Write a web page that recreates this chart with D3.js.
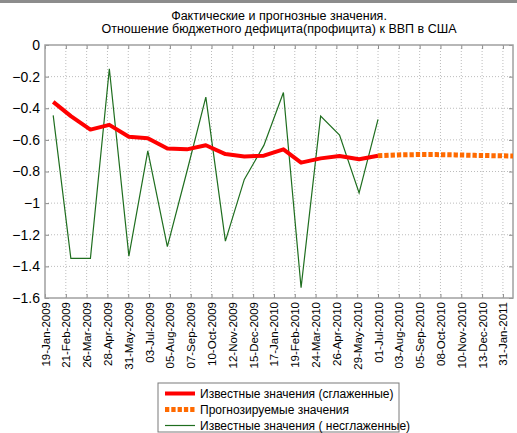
<!DOCTYPE html>
<html>
<head>
<meta charset="utf-8">
<script src="https://cdn.jsdelivr.net/npm/d3@7"></script>
<style>
  body { margin: 0; background: #fff; }
  svg { font-family: "Liberation Sans", Arial, sans-serif; }
</style>
</head>
<body>
<svg id="chart" width="517" height="433"></svg>
<script>
// known months (point dates) and the two series
var knownDates = ["2009-02-01","2009-03-01","2009-04-01","2009-05-01","2009-06-01","2009-07-01",
                  "2009-08-01","2009-09-01","2009-10-01","2009-11-01","2009-12-01","2010-01-01",
                  "2010-02-01","2010-03-01","2010-04-01","2010-05-01","2010-06-01","2010-07-01"];
var smoothed = [-0.36,-0.45,-0.535,-0.505,-0.58,-0.59,-0.655,-0.66,-0.634,-0.69,-0.705,-0.70,
                -0.66,-0.744,-0.717,-0.702,-0.722,-0.70];
var raw = [-0.445,-1.35,-1.35,-0.15,-1.335,-0.67,-1.275,-0.80,-0.33,-1.24,-0.85,-0.635,
           -0.30,-1.535,-0.45,-0.57,-0.935,-0.47];

// forecast
var forecastDates = ["2010-07-01","2010-08-01","2010-09-01","2010-10-01","2010-11-01",
                     "2010-12-01","2011-01-01","2011-02-01"];
var forecast = [-0.70,-0.695,-0.693,-0.693,-0.695,-0.698,-0.70,-0.702];

// x ticks every 33 days starting 19-Jan-2009, labels as printed
var tickStart = "2009-01-19";
var tickLabels = ["19-Jan-2009","21-Feb-2009","26-Mar-2009","28-Apr-2009","31-May-2009","03-Jul-2009",
                  "05-Aug-2009","07-Sep-2009","10-Oct-2009","12-Nov-2009","15-Dec-2009","17-Jan-2010",
                  "19-Feb-2010","24-Mar-2010","26-Apr-2010","29-May-2010","01-Jul-2010","03-Aug-2010",
                  "05-Sep-2010","08-Oct-2010","10-Nov-2010","13-Dec-2010","31-Jan-2011"];
var yTicks = [0,-0.2,-0.4,-0.6,-0.8,-1,-1.2,-1.4,-1.6];

var titleLines = ["Фактические и прогнозные значения.",
                  "Отношение бюджетного дефицита(профицита) к ВВП в США"];
var legendNames = ["Известные значения (сглаженные)","Прогнозируемые значения",
                   "Известные значения ( несглаженные)"];

var parse = d3.utcParse("%Y-%m-%d");
var margin = {top: 45, right: 4, bottom: 135, left: 45},
    width = 517 - margin.left - margin.right,
    height = 433 - margin.top - margin.bottom;

var svg = d3.select("#chart");

// grey strip at the top of the window
svg.append("rect").attr("x", 0).attr("y", 0).attr("width", 517).attr("height", 3).attr("fill", "#8c8c8c");

var g = svg.append("g").attr("transform", "translate(" + margin.left + "," + margin.top + ")");

var x = d3.scaleUtc()
    .domain([parse(tickStart), parse("2011-01-31")])
    .range([0, width]);
var y = d3.scaleLinear()
    .domain([-1.6, 0])
    .range([height, 0]);

var tickDates = tickLabels.map(function(d, i) { return d3.utcDay.offset(parse(tickStart), 33 * i); });

// grid
g.append("g").selectAll("line").data(tickDates.slice(1)).enter().append("line")
    .attr("x1", function(d) { return x(d); }).attr("x2", function(d) { return x(d); })
    .attr("y1", 0).attr("y2", height)
    .attr("stroke", "#bcbcbc").attr("stroke-dasharray", "1,2");
g.append("g").selectAll("line").data(yTicks.slice(1, -1)).enter().append("line")
    .attr("y1", function(d) { return y(d); }).attr("y2", function(d) { return y(d); })
    .attr("x1", 0).attr("x2", width)
    .attr("stroke", "#bcbcbc").attr("stroke-dasharray", "1,2");

// axes with inward ticks
var xAxis = d3.axisBottom(x).tickValues(tickDates).tickSizeInner(-4).tickSizeOuter(0)
    .tickFormat(function(d, i) { return tickLabels[i]; });
var gx = g.append("g").attr("transform", "translate(0," + height + ")").call(xAxis);
gx.selectAll("text")
    .attr("transform", "rotate(-90)")
    .attr("x", -4).attr("y", 0).attr("dy", "0.35em")
    .attr("text-anchor", "end")
    .style("font-size", "11.5px").attr("fill", "#000");

g.append("g").call(d3.axisTop(x).tickValues(tickDates).tickSizeInner(-4).tickSizeOuter(0).tickFormat(""));

var yAxis = d3.axisLeft(y).tickValues(yTicks).tickSizeInner(-4).tickSizeOuter(0)
    .tickFormat(function(d) { return d3.format("")(+d.toFixed(1)); });
var gy = g.append("g").call(yAxis);
gy.selectAll("text").attr("x", -5).style("font-size", "14px").attr("fill", "#000");

g.append("g").attr("transform", "translate(" + width + ",0)")
    .call(d3.axisRight(y).tickValues(yTicks).tickSizeInner(-4).tickSizeOuter(0).tickFormat(""));

g.selectAll(".domain").remove();
g.selectAll(".tick line").attr("stroke", "#8a8a8a");

g.append("rect").attr("width", width).attr("height", height)
    .attr("fill", "none").attr("stroke", "#a0a0a0").attr("stroke-width", 1.5);

// clip
svg.append("clipPath").attr("id", "clip").append("rect").attr("width", width).attr("height", height);
var plot = g.append("g").attr("clip-path", "url(#clip)");

var line = d3.line()
    .x(function(d) { return x(d[0]); })
    .y(function(d) { return y(d[1]); });

var rawData = knownDates.map(function(d, i) { return [parse(d), raw[i]]; });
var smoothData = knownDates.map(function(d, i) { return [parse(d), smoothed[i]]; });
var fcData = forecastDates.map(function(d, i) { return [parse(d), forecast[i]]; });

plot.append("path").datum(rawData).attr("d", line)
    .attr("fill", "none").attr("stroke", "#1f6e1f").attr("stroke-width", 1.2);
plot.append("path").datum(smoothData).attr("d", line)
    .attr("fill", "none").attr("stroke", "#ff0000").attr("stroke-width", 4).attr("stroke-linejoin", "round");
plot.append("path").datum(fcData).attr("d", line)
    .attr("fill", "none").attr("stroke", "#ff6a00").attr("stroke-width", 5)
    .attr("stroke-dasharray", "4.3,2");

// title
svg.append("g").selectAll("text").data(titleLines).enter().append("text")
    .attr("x", margin.left + width / 2)
    .attr("y", function(d, i) { return 20 + i * 13; })
    .attr("text-anchor", "middle")
    .style("font-size", "12.5px")
    .text(function(d) { return d; });

// legend
var legend = svg.append("g").attr("transform", "translate(158,383)");
legend.append("rect").attr("width", 241).attr("height", 49)
    .attr("fill", "#fff").attr("stroke", "#7a7a7a");
var legendStyles = [
  {color: "#ff0000", w: 4, dash: null},
  {color: "#ff6a00", w: 5, dash: "4.3,2"},
  {color: "#1f6e1f", w: 1.2, dash: null}
];
var items = legend.selectAll(".item").data(legendNames).enter().append("g")
    .attr("transform", function(d, i) { return "translate(0," + (10.5 + i * 16) + ")"; });
items.append("line").attr("x1", 7).attr("x2", 37)
    .attr("stroke", function(d, i) { return legendStyles[i].color; })
    .attr("stroke-width", function(d, i) { return legendStyles[i].w; })
    .attr("stroke-dasharray", function(d, i) { return legendStyles[i].dash; });
items.append("text").attr("x", 42).attr("dy", "0.35em")
    .style("font-size", "12px")
    .text(function(d) { return d; });
</script>
</body>
</html>
